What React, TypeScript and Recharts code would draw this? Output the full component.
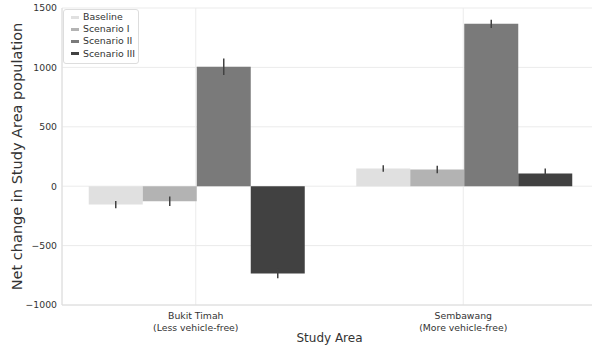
import { BarChart, Bar, XAxis, YAxis, CartesianGrid, ErrorBar, Legend } from "recharts";

const areas = ["Bukit Timah", "Sembawang"];
const areaNotes = ["(Less vehicle-free)", "(More vehicle-free)"];

const scenarios = ["Baseline", "Scenario I", "Scenario II", "Scenario III"];
const colors = ["#e0e0e0", "#b3b3b3", "#7a7a7a", "#414141"];

// mean change per area
const baseline = [-155, 149];
const scenario1 = [-126, 140];
const scenario2 = [1005, 1367];
const scenario3 = [-735, 107];

// half-length of the error bars
const baselineErr = [30, 28];
const scenario1Err = [40, 32];
const scenario2Err = [70, 35];
const scenario3Err = [40, 42];

const yTicks = [-1000, -500, 0, 500, 1000, 1500];

const seriesValues = [baseline, scenario1, scenario2, scenario3];
const seriesErrors = [baselineErr, scenario1Err, scenario2Err, scenario3Err];

const FONT = "'DejaVu Sans', sans-serif";
const TEXT = "#333333";

const data = areas.map((area, i) => {
    const row: Record<string, string | number> = { area, note: areaNotes[i] };
    scenarios.forEach((s, k) => {
        row[s] = seriesValues[k][i];
        row[s + "_err"] = seriesErrors[k][i];
    });
    return row;
});

const fmt = (v: number) => (v < 0 ? "\u2212" + Math.abs(v) : String(v));

function AreaTick(props: any) {
    const { x, y, payload } = props;
    const i = areas.indexOf(payload.value);
    return (
        <g>
            <text x={x} y={y + 13.5} textAnchor="middle" fontSize={9.3} fill={TEXT} fontFamily={FONT}>
                {payload.value}
            </text>
            <text x={x} y={y + 25.5} textAnchor="middle" fontSize={9.3} fill={TEXT} fontFamily={FONT}>
                {areaNotes[i]}
            </text>
        </g>
    );
}

function LegendBox() {
    return (
        <div
            style={{
                border: "1px solid #dddddd",
                borderRadius: 3,
                background: "rgba(255,255,255,0.85)",
                padding: "1px 3px 3px 7px",
                fontFamily: FONT,
                fontSize: 9.4,
                color: TEXT,
                lineHeight: "12.2px",
                width: 64,
            }}
        >
            {scenarios.map((s, k) => (
                <div key={s} style={{ display: "flex", alignItems: "center", whiteSpace: "nowrap" }}>
                    <span style={{ display: "inline-block", width: 8, height: 3, background: colors[k], marginRight: 4 }} />
                    {s}
                </div>
            ))}
        </div>
    );
}

export default function App() {
    return (
        <div style={{ position: "absolute", left: 0, top: 0, width: 592, height: 351, overflow: "hidden", background: "#fff" }}>
            <BarChart
                width={600}
                height={351}
                data={data}
                margin={{ top: 8, right: 3, left: 0, bottom: 0 }}
                barCategoryGap="10%"
                barGap={0}
            >
                <CartesianGrid stroke="#ebebeb" strokeWidth={1} />
                <XAxis
                    dataKey="area"
                    height={46}
                    tickLine={false}
                    tickSize={0}
                    tickMargin={0}
                    axisLine={{ stroke: "#dcdcdc" }}
                    tick={<AreaTick />}
                    label={{
                        content: (p: any) => {
                            const vb = p.viewBox;
                            return (
                                <text x={vb.x + vb.width / 2} y={vb.y + 37} textAnchor="middle" fontSize={12} fill={TEXT} fontFamily={FONT}>
                                    Study Area
                                </text>
                            );
                        },
                    }}
                />
                <YAxis
                    width={62}
                    domain={[-1000, 1500]}
                    ticks={yTicks}
                    tickFormatter={fmt}
                    tickLine={false}
                    tickSize={0}
                    tickMargin={5}
                    axisLine={{ stroke: "#dcdcdc" }}
                    tick={{ fontSize: 9.3, fill: TEXT, fontFamily: FONT }}
                    allowDataOverflow
                    label={{
                        content: (p: any) => {
                            const vb = p.viewBox;
                            const cy = vb.y + vb.height / 2;
                            return (
                                <text
                                    x={22}
                                    y={cy}
                                    transform={`rotate(-90 22 ${cy})`}
                                    textAnchor="middle"
                                    fontSize={14.5}
                                    fill={TEXT}
                                    fontFamily={FONT}
                                >
                                    Net change in Study Area population
                                </text>
                            );
                        },
                    }}
                />
                <Legend
                    layout="horizontal"
                    verticalAlign="middle"
                    align="center"
                    wrapperStyle={{ left: 63, top: 9, width: "auto" }}
                    content={() => <LegendBox />}
                />
                {scenarios.map((s, k) => (
                    <Bar key={s} dataKey={s} fill={colors[k]} isAnimationActive={false}>
                        <ErrorBar dataKey={s + "_err"} direction="y" width={0} stroke="#424242" strokeWidth={1.5} />
                    </Bar>
                ))}
            </BarChart>
        </div>
    );
}
